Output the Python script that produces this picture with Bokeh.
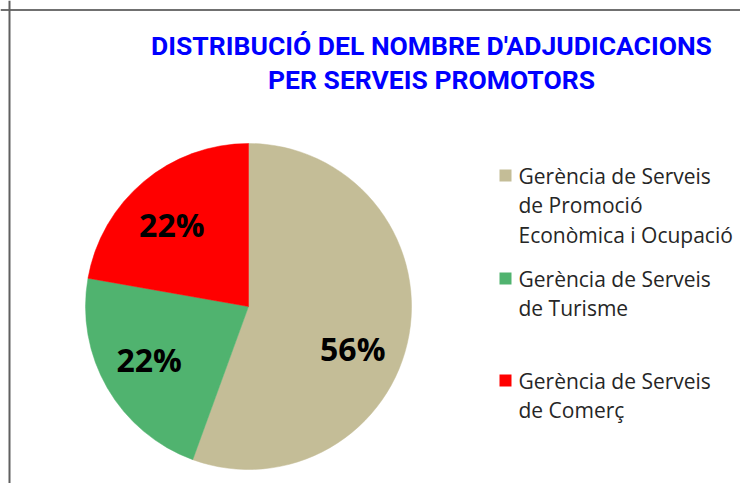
import math
from bokeh.plotting import figure
from bokeh.models import Range1d, Span, ColumnDataSource
from bokeh.core.properties import value
from bokeh.embed import file_html
from bokeh.resources import INLINE

# ---- data ----
categories = [
    "Gerència de Serveis\nde Promoció\nEconòmica i Ocupació",
    "Gerència de Serveis\nde Turisme",
    "Gerència de Serveis\nde Comerç",
]
counts = [5, 2, 2]
colors = ["#C4BD97", "#50B36F", "#FF0000"]
title_lines = ["DISTRIBUCIÓ DEL NOMBRE D'ADJUDICACIONS", "PER SERVEIS PROMOTORS"]

# ---- layout (screen-like coordinates: x = px, y = 491 - px) ----
W, H = 740, 483
def sy(y):
    return 491 - y

p = figure(width=W, height=H, output_backend="svg", toolbar_location=None,
           x_range=Range1d(0, W), y_range=Range1d(sy(H), sy(0)),
           min_border=0, outline_line_color=None)
p.axis.visible = False
p.grid.visible = False
p.background_fill_color = "white"
p.border_fill_color = "white"

# frame lines (chart area border)
p.add_layout(Span(location=sy(9.5), dimension="width", line_color="#707070", line_width=2))
p.add_layout(Span(location=9, dimension="height", line_color="#606060", line_width=2))

# ---- pie ----
cx, cy, R = 248, sy(306), 163
total = sum(counts)
fracs = [c / total for c in counts]
starts, ends, mids = [], [], []
acc = 0.0
for f in fracs:
    starts.append(math.pi / 2 - 2 * math.pi * acc)
    ends.append(math.pi / 2 - 2 * math.pi * (acc + f))
    mids.append(360 * (acc + f / 2))
    acc += f

src = ColumnDataSource(dict(start=starts, end=ends, color=colors))
p.wedge(x=cx, y=cy, radius=R, start_angle="start", end_angle="end",
        direction="clock", fill_color="color", line_color="color", line_width=0.5,
        source=src)

# percentage labels
label_shift = [12, 2, -3]
r_lab = 0.69 * R
lx, ly, lt = [], [], []
for m, s, f in zip(mids, label_shift, fracs):
    a = math.radians(m + s)
    lx.append(cx + r_lab * math.sin(a))
    ly.append(cy + r_lab * math.cos(a))
    lt.append(f"{round(f * 100)}%")
p.text(x=lx, y=ly, text=lt, text_align="center", text_baseline="middle",
       text_font=value("Open Sans"), text_font_style="bold",
       text_font_size="32px", text_color="black")

# ---- title ----
p.text(x=[431, 431], y=[sy(45), sy(79)], text=title_lines,
       text_align="center", text_baseline="middle",
       text_font=value("Roboto"), text_font_style="bold",
       text_font_size="26.5px", text_color="#0000FF")

# ---- legend (manual) ----
item_top = [175, 278, 380]
line_gap = 29.5
p.rect(x=[505] * 3, y=[sy(t) for t in item_top], width=12, height=12,
       fill_color=colors, line_color=None)
tx, ty, tt = [], [], []
for t, cat in zip(item_top, categories):
    for k, line in enumerate(cat.split("\n")):
        tx.append(518)
        ty.append(sy(t + k * line_gap))
        tt.append(line)
p.text(x=tx, y=ty, text=tt, text_align="left", text_baseline="middle",
       text_font=value("Open Sans"), text_font_size="21px", text_color="#262626")

open("out.html", "w").write(file_html(p, INLINE))
